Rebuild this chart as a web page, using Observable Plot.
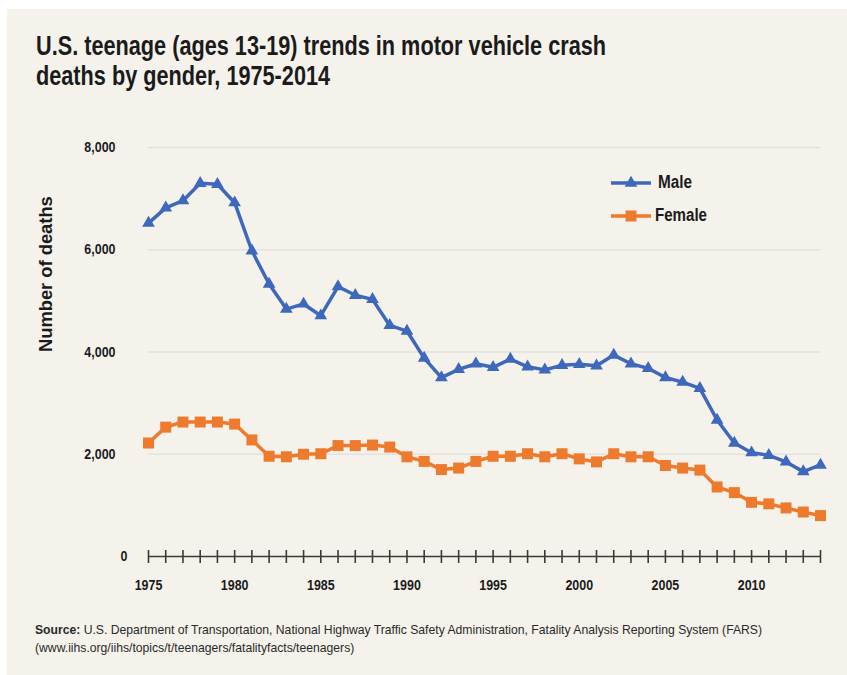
<!DOCTYPE html>
<html>
<head>
<meta charset="utf-8">
<script src="https://cdn.jsdelivr.net/npm/d3@7"></script>
<script src="https://cdn.jsdelivr.net/npm/@observablehq/plot@0.6"></script>
<style>
  html, body { margin: 0; padding: 0; background: #ffffff; }
  body { width: 847px; height: 675px; position: relative; overflow: hidden;
         font-family: "Liberation Sans", Arial, sans-serif; }
  #panel { position: absolute; left: 7px; top: 9px; width: 840px; height: 666px; background: #F4F2EB; }
  #title { position: absolute; left: 36px; top: 31px; font-size: 28px; line-height: 29.5px; font-weight: bold; color: #1b1b1b;
           transform-origin: 0 0; white-space: nowrap; }
  #chart { position: absolute; left: 7px; top: 120px; }
  #caption { position: absolute; left: 35px; top: 621px; font-size: 13px; line-height: 18px; color: #2a2a2a;
             transform-origin: 0 0; white-space: nowrap; }
  .leg { position: absolute; display: flex; align-items: center; font-size: 18px; font-weight: bold; color: #1b1b1b; }
  .leg span { display: inline-block; transform-origin: 0 50%; white-space: nowrap; }
  .fit { display: inline-block; }
</style>
</head>
<body>
<div id="panel"></div>
<div id="title"><span class="fit" id="t1">U.S. teenage (ages 13-19) trends in motor vehicle crash</span><br><span class="fit">deaths by gender, 1975-2014</span></div>
<div id="chart"></div>
<div id="legend"></div>
<div id="caption"><span class="fit" id="c1"><b>Source:</b> U.S. Department of Transportation, National Highway Traffic Safety Administration, Fatality Analysis Reporting System (FARS)</span><br><span class="fit">(www.iihs.org/iihs/topics/t/teenagers/fatalityfacts/teenagers)</span></div>
<script>
const years = [1975,1976,1977,1978,1979,1980,1981,1982,1983,1984,
               1985,1986,1987,1988,1989,1990,1991,1992,1993,1994,
               1995,1996,1997,1998,1999,2000,2001,2002,2003,2004,
               2005,2006,2007,2008,2009,2010,2011,2012,2013,2014];
const male = [6520,6820,6960,7300,7280,6920,5980,5330,4840,4940,
              4710,5280,5110,5030,4520,4410,3880,3500,3660,3770,
              3700,3860,3710,3650,3740,3760,3730,3940,3770,3680,
              3500,3410,3290,2670,2220,2030,1980,1850,1660,1790];
const female = [2220,2530,2630,2630,2630,2590,2280,1960,1950,2000,
                2010,2170,2170,2180,2140,1950,1860,1700,1730,1860,
                1960,1960,2010,1950,2010,1910,1850,2010,1950,1950,
                1780,1730,1690,1360,1250,1060,1030,950,870,800];
const xTickLabels = [1975,1980,1985,1990,1995,2000,2005,2010];
const yTicks = [2000,4000,6000,8000];
const seriesNames = ["Male","Female"];
const colors = {Male: "#3D68BC", Female: "#EE7A2E"};
const yLabel = "Number of deaths";

const maleData = years.map((y,i) => ({year: y, value: male[i]}));
const femaleData = years.map((y,i) => ({year: y, value: female[i]}));

const vTick = { draw(ctx) { ctx.moveTo(0,-6.5); ctx.lineTo(0,6.5); } };

const font = '"Liberation Sans", Arial, sans-serif';

const plot = Plot.plot({
  width: 840, height: 480,
  marginLeft: 141, marginRight: 27, marginTop: 27, marginBottom: 44,
  style: {background: "transparent", fontFamily: font, fontSize: "14.5px", fontWeight: "bold", color: "#1b1b1b"},
  x: {domain: [1975, 2014], axis: null},
  y: {domain: [0, 8000], axis: null},
  marks: [
    Plot.ruleY(yTicks, {x1: 1975, x2: 2014, stroke: "#E4E2DC", strokeWidth: 1.5}),
    Plot.axisY(yTicks, {tickSize: 0, tickPadding: 33, tickFormat: d3.format(","), label: null, fontWeight: "bold", fontSize: 14.5, className: "tk"}),
    Plot.axisY([0], {tickSize: 0, tickPadding: 21, tickFormat: d => "0", label: null, fontWeight: "bold", fontSize: 14.5, className: "tk"}),
    Plot.axisX(xTickLabels, {tickSize: 0, tickPadding: 23, tickFormat: d => String(d), label: null, fontWeight: "bold", fontSize: 14.5, className: "tk"}),
    Plot.ruleY([0], {x1: 1975, x2: 2014, stroke: "#3a3a3a", strokeWidth: 1.6}),
    Plot.dot(years, {x: d => d, y: 0, symbol: vTick, stroke: "#3a3a3a", strokeWidth: 1.6, fill: "none"}),
    Plot.text([yLabel], {frameAnchor: "left", rotate: -90, dx: -103, fontSize: 19, fontWeight: "bold", fill: "#1b1b1b", className: "ylab"}),
    Plot.line(maleData, {x: "year", y: "value", stroke: colors.Male, strokeWidth: 3.5}),
    Plot.dot(maleData, {x: "year", y: "value", symbol: "triangle", r: 4.7, fill: colors.Male}),
    Plot.line(femaleData, {x: "year", y: "value", stroke: colors.Female, strokeWidth: 3.5}),
    Plot.dot(femaleData, {x: "year", y: "value", symbol: "square", r: 6.2, fill: colors.Female})
  ]
});
document.getElementById("chart").appendChild(plot);

// horizontally condense SVG text around its anchor point
function condense(t, s) {
  const tr = t.getAttribute("transform");
  if (tr) {
    t.setAttribute("transform", tr + ` scale(${s},1)`);
  } else {
    const x = +(t.getAttribute("x") || 0), y = +(t.getAttribute("y") || 0);
    t.removeAttribute("x"); t.removeAttribute("y");
    t.setAttribute("transform", `translate(${x},${y}) scale(${s},1)`);
  }
}
plot.querySelectorAll(".tk text").forEach(t => condense(t, 0.86));
plot.querySelectorAll(".ylab text").forEach(t => condense(t, 156 / t.getComputedTextLength()));

// Legend
const legend = document.getElementById("legend");
const legPos = {Male: {left: 611, top: 172, w: 34}, Female: {left: 611, top: 205, w: 52}};
seriesNames.forEach(name => {
  const item = document.createElement("div");
  item.className = "leg";
  item.style.left = legPos[name].left + "px";
  item.style.top = legPos[name].top + "px";
  const ns = "http://www.w3.org/2000/svg";
  const svg = document.createElementNS(ns, "svg");
  svg.setAttribute("width", 40); svg.setAttribute("height", 20);
  svg.style.marginRight = (name === "Male" ? 7 : 4) + "px";
  const line = document.createElementNS(ns, "line");
  line.setAttribute("x1", 0); line.setAttribute("x2", 40);
  line.setAttribute("y1", 10); line.setAttribute("y2", 10);
  line.setAttribute("stroke", colors[name]); line.setAttribute("stroke-width", 3.5);
  svg.appendChild(line);
  const p = document.createElementNS(ns, "path");
  const sym = name === "Male" ? d3.symbolTriangle : d3.symbolSquare;
  const size = name === "Male" ? Math.PI * 4.7 * 4.7 : Math.PI * 6.2 * 6.2;
  p.setAttribute("d", d3.symbol(sym, size)());
  p.setAttribute("transform", "translate(20,10)");
  p.setAttribute("fill", colors[name]);
  svg.appendChild(p);
  item.appendChild(svg);
  const span = document.createElement("span");
  span.textContent = name;
  item.appendChild(span);
  legend.appendChild(item);
  const w = span.getBoundingClientRect().width;
  span.style.transform = `scaleX(${legPos[name].w / w})`;
});

// Condensed look: fit title and caption widths to the reference
function fit(containerId, lineId, target) {
  const c = document.getElementById(containerId);
  const w = document.getElementById(lineId).getBoundingClientRect().width;
  c.style.transform = `scaleX(${target / w})`;
}
fit("title", "t1", 570);
fit("caption", "c1", 727);
</script>
</body>
</html>
